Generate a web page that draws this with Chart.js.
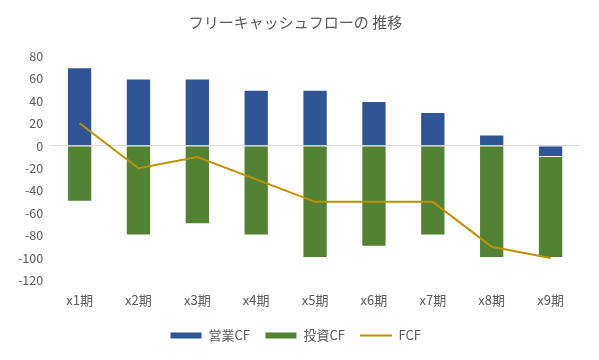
<!DOCTYPE html>
<html><head><meta charset="utf-8">
<script src="https://cdn.jsdelivr.net/npm/chart.js@4/dist/chart.umd.min.js"></script>
<style>html,body{margin:0;padding:0;background:#fff}#w{width:599px;height:360px}</style>
</head><body><div id="w"><canvas id="c"></canvas></div>
<script>
const categories = ['x1期','x2期','x3期','x4期','x5期','x6期','x7期','x8期','x9期'];
const operatingCF = [70, 60, 60, 50, 50, 40, 30, 10, -10];
const investingCF = [-50, -80, -70, -80, -100, -90, -80, -100, -90];
const freeCF = [20, -20, -10, -30, -50, -50, -50, -90, -100];
const yTicks = [80, 60, 40, 20, 0, -20, -40, -60, -80, -100, -120];

const FONT = "'Noto Sans CJK JP', 'Noto Sans', sans-serif";
const GRAY = '#595959';
const legendOrder = [1, 2, 0];

new Chart(document.getElementById('c'), {
  data: {
    labels: categories,
    datasets: [
      { type: 'line', label: 'FCF', data: freeCF, borderColor: '#BF9000', backgroundColor: '#BF9000',
        borderWidth: 2, pointRadius: 0, tension: 0, order: 0, pointStyle: 'line' },
      { type: 'bar', label: '営業CF', data: operatingCF, backgroundColor: '#2F5597', borderColor: '#ffffff',
        borderWidth: 1, stack: 's', order: 1, pointStyle: 'rect' },
      { type: 'bar', label: '投資CF', data: investingCF, backgroundColor: '#548235', borderColor: '#ffffff',
        borderWidth: 1, stack: 's', order: 2, pointStyle: 'rect' }
    ]
  },
  options: {
    responsive: true, maintainAspectRatio: false, animation: false,
    layout: { padding: { left: 11, right: 19, top: 6, bottom: 8 } },
    datasets: { bar: { barPercentage: 0.43, categoryPercentage: 1.0 } },
    scales: {
      x: { stacked: true, grid: { display: false }, border: { display: false },
           afterFit: s => { s.height += 2; },
           ticks: { color: GRAY, font: { family: FONT, size: 13 }, padding: 4 } },
      y: { stacked: true, min: -120, max: 80, afterBuildTicks: s => { s.ticks = yTicks.map(v => ({ value: v })); },
           grid: { display: true, drawTicks: false, color: c => c.tick && c.tick.value === 0 ? '#D9D9D9' : 'rgba(0,0,0,0)', lineWidth: 1 },
           border: { display: false },
           ticks: { color: GRAY, font: { family: FONT, size: 12.5 }, padding: 7 } }
    },
    plugins: {
      title: { display: true, text: 'フリーキャッシュフローの 推移', color: GRAY,
               font: { family: FONT, size: 15, weight: 'normal' }, padding: { top: 7, bottom: 25 } },
      legend: { position: 'bottom',
        labels: { color: GRAY, font: { family: FONT, size: 13 }, usePointStyle: true, pointStyleWidth: 32,
                  boxHeight: 7, padding: 15,
                  sort: (a, b) => legendOrder.indexOf(a.datasetIndex) - legendOrder.indexOf(b.datasetIndex) } },
      tooltip: { enabled: false }
    }
  }
});
</script></body></html>
